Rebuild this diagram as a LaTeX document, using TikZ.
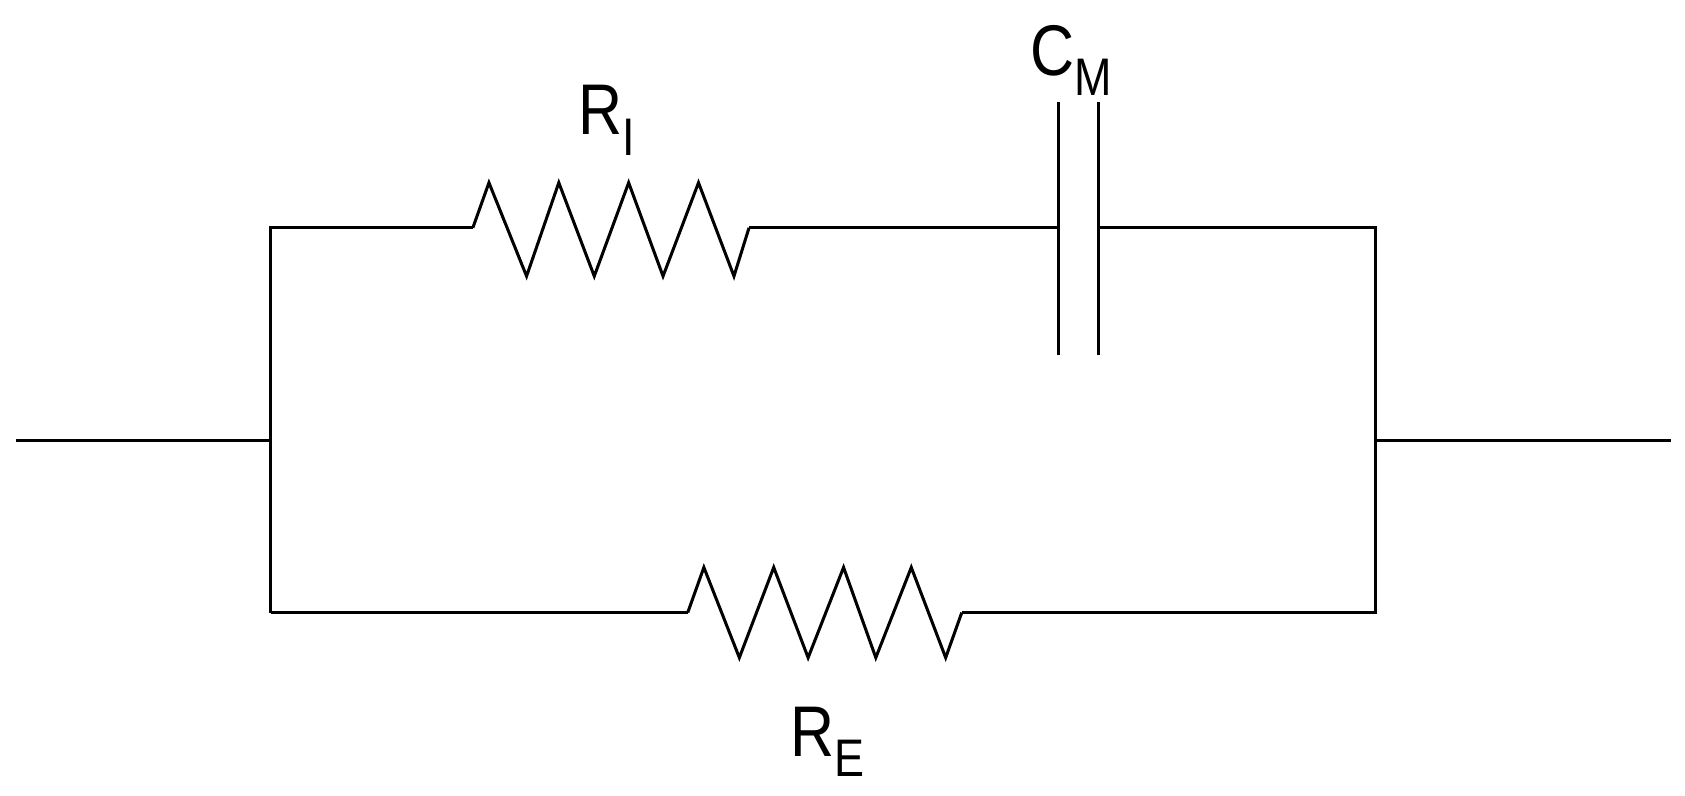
\documentclass[tikz,border=0pt]{standalone}
\usepackage{fontspec}
\setmainfont{Liberation Sans}
\newcommand{\mysub}[1]{\raisebox{-0.28em}{\fontsize{28}{30}\selectfont #1}}
\begin{document}
\begin{tikzpicture}[x=0.02cm,y=-0.02cm,wire/.style={line width=1.6pt,line join=miter},
 lab/.style={font=\fontsize{38}{40}\selectfont,inner sep=0pt,xscale=0.85}]
\useasboundingbox (0,0) rectangle (1568,740);
\coordinate (L) at (15,410); \coordinate (LJ) at (252,410);
\coordinate (RJ) at (1280,410); \coordinate (R) at (1555,410);
\coordinate (TL) at (252,212); \coordinate (TR) at (1280,212);
\coordinate (BL) at (252,570); \coordinate (BR) at (1280,570);
\coordinate (ria) at (440,212); \coordinate (rib) at (697,212);
\coordinate (rea) at (640,570); \coordinate (reb) at (895,570);
\coordinate (ca) at (985,212); \coordinate (cb) at (1022,212);
\draw[wire] (L) -- (LJ);
\draw[wire] (RJ) -- (R);
\draw[wire] (BL) -- (TL) -- (ria);
\draw[wire] (ria) -- (455,170) -- (490,257) -- (520,170) -- (553,257) -- (585,170) -- (617,257) -- (650,170) -- (683,257) -- (rib);
\draw[wire] (rib) -- (ca);
\draw[wire] (cb) -- (TR) -- (BR) -- (reb);
\draw[wire] (rea) -- (655,528) -- (688,612) -- (720,528) -- (752,612) -- (785,528) -- (815,612) -- (848,528) -- (880,612) -- (reb);
\draw[wire] (BL) -- (rea);
\draw[wire] (985,95) -- (985,330);
\draw[wire] (1022,95) -- (1022,330);
\node[lab] (lri) at (565,112) {R\mysub{I}};
\node[lab] (lcm) at (997,56) {C\mysub{M}};
\node[lab] (lre) at (770,690) {R\mysub{E}};
\end{tikzpicture}
\end{document}
